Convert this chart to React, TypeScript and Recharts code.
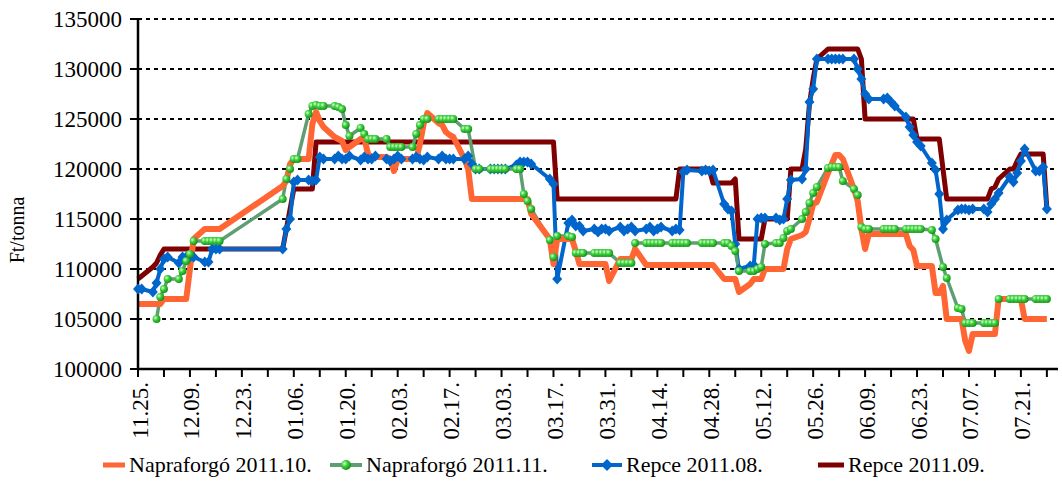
import React from "react";
import { LineChart, Line, XAxis, YAxis, CartesianGrid, Legend, Label } from "recharts";

const FONT = '"Liberation Serif", "Times New Roman", serif';

// kereskedési napok, soronként egy hét (2010.11.25 – 2011.07.28)
const dates = [
  "11.25", "11.26",
  "11.29", "11.30", "12.01", "12.02", "12.03",
  "12.06", "12.07", "12.08", "12.09", "12.10",
  "12.13", "12.14", "12.15", "12.16", "12.17",
  "01.03", "01.04", "01.05", "01.06", "01.07",
  "01.10", "01.11", "01.12", "01.13", "01.14",
  "01.17", "01.18", "01.19", "01.20", "01.21",
  "01.24", "01.25", "01.26", "01.27", "01.28",
  "01.31", "02.01", "02.02", "02.03", "02.04",
  "02.07", "02.08", "02.09", "02.10", "02.11",
  "02.14", "02.15", "02.16", "02.17", "02.18",
  "02.21", "02.22", "02.23", "02.24", "02.25",
  "02.28", "03.01", "03.02", "03.03", "03.04",
  "03.07", "03.08", "03.09", "03.10", "03.11",
  "03.16", "03.17", "03.18",
  "03.21", "03.22", "03.23", "03.24", "03.25",
  "03.28", "03.29", "03.30", "03.31", "04.01",
  "04.04", "04.05", "04.06", "04.07", "04.08",
  "04.11", "04.12", "04.13", "04.14", "04.15",
  "04.18", "04.19", "04.20", "04.21", "04.22",
  "04.26", "04.27", "04.28", "04.29",
  "05.02", "05.03", "05.04", "05.05", "05.06",
  "05.09", "05.10", "05.11", "05.12", "05.13",
  "05.16", "05.17", "05.18", "05.19", "05.20",
  "05.23", "05.24", "05.25", "05.26", "05.27",
  "05.30", "05.31", "06.01", "06.02", "06.03",
  "06.06", "06.07", "06.08", "06.09", "06.10",
  "06.14", "06.15", "06.16", "06.17",
  "06.20", "06.21", "06.22", "06.23", "06.24",
  "06.27", "06.28", "06.29", "06.30", "07.01",
  "07.04", "07.05", "07.06", "07.07", "07.08",
  "07.11", "07.12", "07.13", "07.14", "07.15",
  "07.18", "07.19", "07.20", "07.21", "07.22",
  "07.25", "07.26", "07.27", "07.28",
];

// Napraforgó 2011.10.
const napra10 = [
  106500, 106500,
  106500, 106500, 106500, 107000, 107000,
  107000, 107000, 107000, 110000, 113000,
  114000, 114000, 114000, 114000, 114000,
  118300, 118800, 120500, 121000, 121000,
  121000, 124500, 125700, 124800, 124200,
  123200, 123000, 122800, 121900, 122200,
  123000, 123100, 121500, 121200, 121200,
  121200, 121000, 119800, 121000, 121000,
  121000, 121000, 122500, 124500, 125600,
  124600, 124400, 123700, 123400, 123200,
  121000, 120000, 117000, 117000, 117000,
  117000, 117000, 117000, 117000, 117000,
  117000, 117000, 117000, 117000, 115500,
  113000, 110500, 113000,
  113000, 113000, 111800, 110500, 110500,
  110500, 110500, 110500, 110500, 108800,
  111000, 111000, 111000, 111000, 112000,
  110400, 110400, 110400, 110400, 110400,
  110400, 110400, 110400, 110400, 110400,
  110400, 110400, 110400, 110400,
  109000, 109000, 109000, 109000, 107700,
  108500, 109000, 109000, 109000, 110000,
  110000, 110000, 110000, 112000, 113000,
  113400, 113700, 115000, 116500, 116700,
  119600, 120500, 121400, 121400, 121000,
  118000, 116800, 114000, 112000, 113500,
  113500, 113500, 113500, 113500,
  113500, 112300, 111900, 110300, 110300,
  110300, 107600, 107600, 108300, 105000,
  105000, 105000, 102800, 101800, 103500,
  103500, 103500, 103500, 103500, 107000,
  107000, 107000, 107000, 107000, 105000,
  105000, 105000, 105000, 105000,
];

// Napraforgó 2011.11.
const napra11 = [
  null, null,
  null, 105000, 107200, 108000, 109000,
  109000, 109800, 110800, 111500, 112800,
  112800, 112800, 112800, 112800, 112800,
  117000, 119000, 120000, 121000, 121000,
  125500, 126300, 126400, 126300, 126300,
  126300, 126200, 126000, 124400, 123300,
  124100, 123500, 123000, 123000, 123000,
  123000, 122200, 122200, 122200, 122200,
  122200, 123500, 124400, 125000, 125000,
  125000, 125000, 125000, 125000, 125000,
  124000, 124000, null, 120000, 120000,
  120000, 120000, 120000, 120000, 120000,
  120000, 120000, 117500, 116800, 116000,
  112900, 111200, 113300,
  113300, 113200, 111600, 111600, 111600,
  111600, 111600, 111600, 111600, 111600,
  110600, 110600, 110600, 110600, 112600,
  112600, 112600, 112600, 112600, 112600,
  112600, 112600, 112600, 112600, 112600,
  112600, 112600, 112600, 112600,
  112600, 112600, 112300, 111800, 109800,
  109800, 109800, 110000, 110200, 112500,
  112600, 112600, 113100, 113800, 114000,
  115000, 115700, 116600, 117600, 118200,
  120100, 120200, 120200, 120200, 118800,
  118000, 117400, 114200, 114000, 114000,
  114000, 114000, 114000, 114000,
  114000, 114000, 114000, 114000, 114000,
  113900, 113000, null, 110200, 109100,
  106100, 106000, 104600, 104600, 104600,
  104600, 104600, 104600, 104600, 107000,
  107000, 107000, 107000, 107000, 107000,
  107000, 107000, 107000, 107000,
];

// Repce 2011.08.
const repce08 = [
  108000, 108000,
  107700, 108600, 110000, 111000, 111200,
  110600, 111200, 111200, 111200, 111200,
  110700, 110700, 112000, 112000, 112000,
  112000, 114000, 115000, 118700, 118900,
  118900, 118800, 118900, 121200, 121000,
  121000, 121300, 121000, 121000, 121300,
  120900, 121200, 121000, 121000, 121300,
  121000, 120800, 121000, 121300, 121000,
  121000, 121200, 121000, 120900, 121200,
  121000, 121300, 121000, 121000, 121000,
  121000, 121300, 120500, 120000, 120000,
  120000, 120000, 120000, 120000, 120000,
  120400, 120700, 120700, 120700, 120500,
  119000, 118500, 109000,
  114600, 114900, 114300, 114300, 113800,
  114000, 113700, 114000, 114000, 113800,
  114200, 113800, 114000, 114200, 113800,
  114000, 114200, 113800, 114000, 114200,
  113800, 114000, 113900, 119700, 119900,
  119800, 119900, 119800, 119900,
  116500, 116000, 115800, 112500, 110000,
  110300, 110400, 115000, 115100, 115100,
  115100, 114900, 115000, 117000, 118900,
  119000, 120000, 126700, 128000, 131000,
  131000, 131000, 131000, 131000, 131000,
  131000, 130000, 129000, 127500, 127000,
  127000, 127100, 126700, 126300,
  125200, 124200, 123400, 122700, 122300,
  120600, 119900, 117500, 114000, 114900,
  115900, 116000, 116000, 115900, 116000,
  116000, 115700, 116500, 117000, 117600,
  119200, 118700, 119600, 120800, 122000,
  119800, 119800, 120200, 116000,
];

// Repce 2011.09.
const repce09 = [
  109000, 109300,
  110200, 110600, 111400, 112000, 112000,
  112000, 112000, 112000, 112000, 112000,
  112000, 112000, 112000, 112000, 112000,
  112000, 114000, 116000, 118000, 118000,
  118000, 118000, 122700, 122700, 122700,
  122700, 122700, 122700, 122700, 122700,
  122700, 122700, 122700, 122700, 122700,
  122700, 122700, 122700, 122700, 122700,
  122700, 122700, 122700, 122700, 122700,
  122700, 122700, 122700, 122700, 122700,
  122700, 122700, 122700, 122700, 122700,
  122700, 122700, 122700, 122700, 122700,
  122700, 122700, 122700, 122700, 122700,
  122700, 122700, 117000,
  117000, 117000, 117000, 117000, 117000,
  117000, 117000, 117000, 117000, 117000,
  117000, 117000, 117000, 117000, 117000,
  117000, 117000, 117000, 117000, 117000,
  117000, 117000, 120000, 120000, 120000,
  120000, 120000, 120000, 118600,
  118600, 118600, 118600, 119000, 113000,
  113000, 113000, 113000, 113000, 115000,
  115000, 115000, 115000, 115000, 120000,
  120000, 122000, 126500, 129000, 131000,
  132000, 132000, 132000, 132000, 132000,
  132000, 132000, 131000, 125000, 125000,
  125000, 125000, 125000, 125000,
  125000, 125000, 125000, 123000, 123000,
  123000, 123000, 123000, 120000, 117000,
  117000, 117000, 117000, 117000, 117000,
  117000, 117000, 118000, 118200, 119000,
  120000, 120000, 120800, 121500, 121500,
  121500, 121500, 121500, 116000,
];

const xLabels = [
  "11.25.", "12.09.", "12.23.", "01.06.", "01.20.", "02.03.", "02.17.", "03.03.", "03.17.",
  "03.31.", "04.14.", "04.28.", "05.12.", "05.26.", "06.09.", "06.23.", "07.07.", "07.21.",
];

const yTicks = [100000, 105000, 110000, 115000, 120000, 125000, 130000, 135000];

const series = [
  { key: "napra10", name: "Napraforgó 2011.10.", color: "#FF6633" },
  { key: "napra11", name: "Napraforgó 2011.11.", color: "#5E9E73" },
  { key: "repce08", name: "Repce 2011.08.", color: "#0066CC" },
  { key: "repce09", name: "Repce 2011.09.", color: "#7F0000" },
];

// napok száma 2010.11.25-től
function dayOf(s: string) {
  const [m, d] = s.split(".").map(Number);
  const y = m >= 11 ? 2010 : 2011;
  return Math.round((Date.UTC(y, m - 1, d) - Date.UTC(2010, 10, 25)) / 86400000);
}

const rows = dates.map((d, i) => ({
  day: dayOf(d),
  napra10: napra10[i],
  napra11: napra11[i],
  repce08: repce08[i],
  repce09: repce09[i],
}));

const labelByDay = new Map(xLabels.map((l) => [dayOf(l), l]));
const weekTicks: number[] = [];
for (let d = 0; d <= 245; d += 7) weekTicks.push(d);

function XTick(props: any) {
  const { x, y, payload } = props;
  const label = labelByDay.get(payload.value);
  if (!label) return <g />;
  const tx = x + 2;
  const ty = y + 3;
  return (
    <text
      x={tx}
      y={ty}
      transform={`rotate(-90, ${tx}, ${ty})`}
      textAnchor="end"
      dominantBaseline="central"
      fontFamily={FONT}
      fontSize={23}
      fill="#000"
    >
      {label}
    </text>
  );
}

function Diamond(props: any) {
  const { cx, cy, index } = props;
  if (cx == null || cy == null) return <g key={`dm${index}`} />;
  return (
    <polygon
      key={`dm${index}`}
      points={`${cx},${cy - 5.5} ${cx + 5},${cy} ${cx},${cy + 5.5} ${cx - 5},${cy}`}
      fill="#0066CC"
    />
  );
}

function Ball(props: any) {
  const { cx, cy, index } = props;
  if (cx == null || cy == null) return <g key={`bl${index}`} />;
  return <circle key={`bl${index}`} cx={cx} cy={cy} r={4} fill="url(#greenBall)" />;
}

function LegendIcon({ k, color }: { k: string; color: string }) {
  if (k === "napra10")
    return (
      <svg width={24} height={14}>
        <line x1={1} y1={7} x2={23} y2={7} stroke={color} strokeWidth={5} />
      </svg>
    );
  if (k === "napra11")
    return (
      <svg width={34} height={14}>
        <line x1={1} y1={7} x2={33} y2={7} stroke={color} strokeWidth={4} />
        <circle cx={17} cy={7} r={5} fill="url(#greenBallLegend)" />
        <defs>
          <radialGradient id="greenBallLegend" cx="35%" cy="35%" r="70%">
            <stop offset="0%" stopColor="#d9ffd2" />
            <stop offset="40%" stopColor="#3fd33f" />
            <stop offset="100%" stopColor="#138a13" />
          </radialGradient>
        </defs>
      </svg>
    );
  if (k === "repce08")
    return (
      <svg width={32} height={14}>
        <line x1={1} y1={7} x2={31} y2={7} stroke={color} strokeWidth={4} />
        <polygon points="16,1 22,7 16,13 10,7" fill={color} />
      </svg>
    );
  return (
    <svg width={28} height={14}>
      <line x1={1} y1={7} x2={27} y2={7} stroke={color} strokeWidth={5} />
    </svg>
  );
}

const legendLeft: Record<string, number> = { napra10: 102, napra11: 329, repce08: 591, repce09: 817 };

function renderLegend() {
  return (
    <div style={{ position: "relative", height: 30, width: 1062, fontFamily: FONT, fontSize: 22, color: "#000" }}>
      {series.map((s) => (
        <div
          key={s.key}
          style={{ position: "absolute", left: legendLeft[s.key], top: 0, height: 30, display: "flex", alignItems: "center" }}
        >
          <LegendIcon k={s.key} color={s.color} />
          <span style={{ marginLeft: 3, whiteSpace: "nowrap" }}>{s.name}</span>
        </div>
      ))}
    </div>
  );
}

export default function App() {
  return (
    <div style={{ position: "absolute", left: 0, top: 0, background: "#fff" }}>
      <LineChart width={1062} height={484} data={rows} margin={{ top: 19, right: 4, left: 0, bottom: 4 }}>
        <defs>
          <radialGradient id="greenBall" cx="35%" cy="35%" r="70%">
            <stop offset="0%" stopColor="#d9ffd2" />
            <stop offset="40%" stopColor="#3fd33f" />
            <stop offset="100%" stopColor="#138a13" />
          </radialGradient>
        </defs>
        <CartesianGrid vertical={false} stroke="#000" strokeWidth={2} strokeDasharray="4 4" />
        <XAxis
          dataKey="day"
          type="number"
          domain={[0, 248]}
          ticks={weekTicks}
          interval={0}
          tick={<XTick />}
          tickSize={8}
          tickMargin={2}
          tickLine={{ stroke: "#000", strokeWidth: 2 }}
          axisLine={{ stroke: "#000", strokeWidth: 2.5 }}
          height={81}
        />
        <YAxis
          width={138}
          domain={[100000, 135000]}
          ticks={yTicks}
          interval={0}
          tickSize={8}
          tickMargin={8}
          tick={{ fontFamily: FONT, fontSize: 23, fill: "#000" }}
          tickLine={{ stroke: "#000", strokeWidth: 2 }}
          axisLine={{ stroke: "#000", strokeWidth: 2.5 }}
        >
          <Label
            content={() => (
              <text
                x={17}
                y={230}
                transform="rotate(-90, 17, 230)"
                textAnchor="middle"
                dominantBaseline="central"
                fontFamily={FONT}
                fontSize={20}
                fill="#000"
              >
                Ft/tonna
              </text>
            )}
          />
        </YAxis>
        <Legend verticalAlign="bottom" align="left" content={renderLegend} wrapperStyle={{ left: 0, bottom: 4, width: 1062 }} />
        <Line
          dataKey="repce09"
          name="Repce 2011.09."
          type="linear"
          stroke="#7F0000"
          strokeWidth={5}
          strokeLinejoin="round"
          dot={false}
          activeDot={false}
          isAnimationActive={false}
        />
        <Line
          dataKey="repce08"
          name="Repce 2011.08."
          type="linear"
          stroke="#0066CC"
          strokeWidth={4}
          strokeLinejoin="round"
          dot={Diamond}
          activeDot={false}
          isAnimationActive={false}
        />
        <Line
          dataKey="napra11"
          name="Napraforgó 2011.11."
          type="linear"
          stroke="#5E9E73"
          strokeWidth={3.5}
          strokeLinejoin="round"
          connectNulls
          dot={Ball}
          activeDot={false}
          isAnimationActive={false}
        />
        <Line
          dataKey="napra10"
          name="Napraforgó 2011.10."
          type="linear"
          stroke="#FF6633"
          strokeWidth={6}
          strokeLinejoin="round"
          dot={false}
          activeDot={false}
          isAnimationActive={false}
        />
      </LineChart>
    </div>
  );
}
